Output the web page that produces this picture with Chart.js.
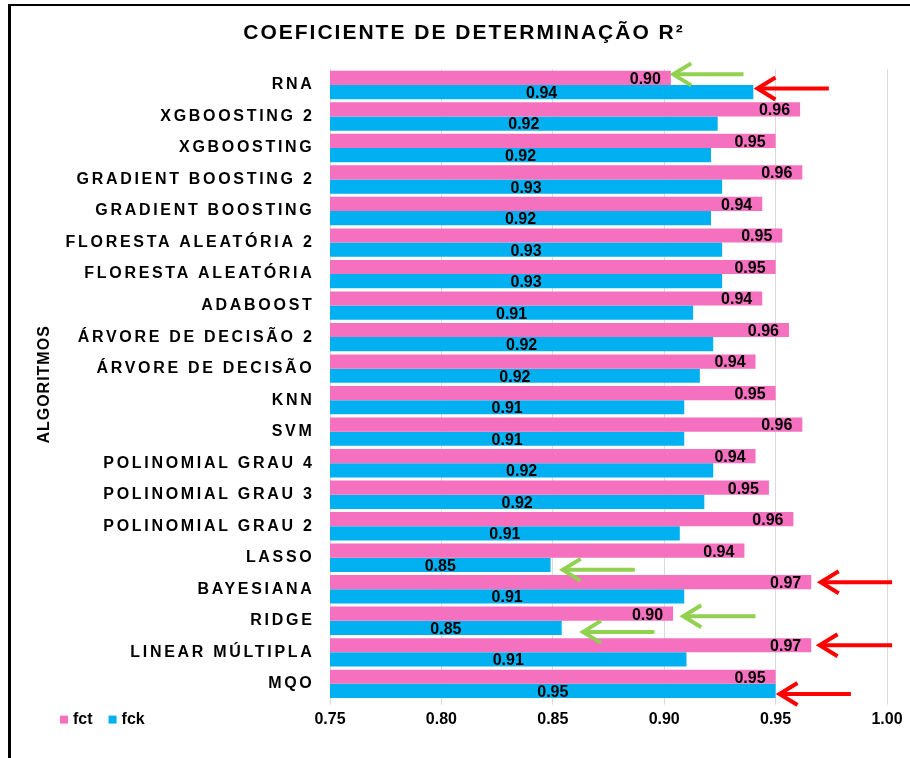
<!DOCTYPE html>
<html>
<head>
<meta charset="utf-8">
<script src="https://cdn.jsdelivr.net/npm/chart.js@4.4.0/dist/chart.umd.min.js"></script>
<style>
  html, body { margin: 0; padding: 0; background: #fff; }
  #frame { position: absolute; left: 8px; top: 4px; width: 910px; height: 760px;
           border-top: 2px solid #000; border-left: 3px solid #000; box-sizing: border-box; }
  #wrap { position: absolute; left: 0; top: 0; width: 910px; height: 758px; }
</style>
</head>
<body>
<div id="frame"></div>
<div id="wrap"><canvas id="c"></canvas></div>
<script>
// ---- data ----
const categories = [
  'RNA', 'XGBOOSTING 2', 'XGBOOSTING', 'GRADIENT BOOSTING 2', 'GRADIENT BOOSTING',
  'FLORESTA ALEATÓRIA 2', 'FLORESTA ALEATÓRIA', 'ADABOOST', 'ÁRVORE DE DECISÃO 2',
  'ÁRVORE DE DECISÃO', 'KNN', 'SVM', 'POLINOMIAL GRAU 4', 'POLINOMIAL GRAU 3',
  'POLINOMIAL GRAU 2', 'LASSO', 'BAYESIANA', 'RIDGE', 'LINEAR MÚLTIPLA', 'MQO'
];
const fctValues = [0.903, 0.961, 0.950, 0.962, 0.944, 0.953, 0.950, 0.944, 0.956, 0.941,
                   0.950, 0.962, 0.941, 0.947, 0.958, 0.936, 0.966, 0.904, 0.966, 0.950];
const fckValues = [0.940, 0.924, 0.921, 0.926, 0.921, 0.926, 0.926, 0.913, 0.922, 0.916,
                   0.909, 0.909, 0.922, 0.918, 0.907, 0.849, 0.909, 0.854, 0.910, 0.950];
const seriesNames = ['fct', 'fck'];
const xTickValues = [0.75, 0.80, 0.85, 0.90, 0.95, 1.00];
const xTickLabels = ['0.75', '0.80', '0.85', '0.90', '0.95', '1.00'];
const chartTitle = 'COEFICIENTE DE DETERMINAÇÃO R²';
const axisTitle = 'ALGORITMOS';

// highlight arrows (annotation): from tail value to tip value, on a given bar
const arrows = [
  { category: 'RNA', series: 'fct', from: 0.9356, to: 0.9036, dy: -3.5, color: '#92D050' },
  { category: 'RNA', series: 'fck', from: 0.9739, to: 0.9414, dy: -3.5, color: '#FF0000' },
  { category: 'LASSO', series: 'fck', from: 0.8868, to: 0.8540, dy: 5, color: '#92D050' },
  { category: 'BAYESIANA', series: 'fct', from: 1.0023, to: 0.9698, dy: 0, color: '#FF0000' },
  { category: 'RIDGE', series: 'fct', from: 0.9410, to: 0.9081, dy: 2.5, color: '#92D050' },
  { category: 'RIDGE', series: 'fck', from: 0.8956, to: 0.8631, dy: 4, color: '#92D050' },
  { category: 'LINEAR MÚLTIPLA', series: 'fct', from: 1.0023, to: 0.9693, dy: 0, color: '#FF0000' },
  { category: 'MQO', series: 'fck', from: 0.9838, to: 0.9513, dy: 3, color: '#FF0000' }
];

// ---- styling ----
const FONT = "'Liberation Sans', Arial, Helvetica, sans-serif";
const PINK = '#F570BE';
const BLUE = '#00B0F0';

const spacingPlugin = {
  id: 'spacing',
  afterLayout(chart) {
    const ctx = chart.ctx;
    const y = chart.scales.y;
    if (y && !y.__wrapped) {
      const dl = y.drawLabels;
      y.drawLabels = function (area) {
        ctx.save(); ctx.letterSpacing = '2.7px'; dl.call(this, area); ctx.restore();
      };
      const dt = y.drawTitle;
      y.drawTitle = function () {
        ctx.save(); ctx.letterSpacing = '1px'; dt.call(this); ctx.restore();
      };
      y.__wrapped = true;
    }
    const t = chart.titleBlock;
    if (t && !t.__wrapped) {
      const d = t.draw;
      t.draw = function (a) {
        ctx.save(); ctx.letterSpacing = '2px'; d.call(this, a); ctx.restore();
      };
      t.__wrapped = true;
    }
  }
};

const labelPlugin = {
  id: 'valueLabels',
  afterDatasetsDraw(chart) {
    const ctx = chart.ctx;
    const xs = chart.scales.x;
    const base = xs.getPixelForValue(xs.min);
    ctx.save();
    ctx.font = 'bold 16px ' + FONT;
    ctx.fillStyle = '#000';
    ctx.textBaseline = 'middle';
    chart.data.datasets.forEach((ds, di) => {
      const meta = chart.getDatasetMeta(di);
      meta.data.forEach((bar, i) => {
        const txt = Number(ds.data[i]).toFixed(2);
        const end = xs.getPixelForValue(ds.data[i]);
        if (di === 0) {
          ctx.textAlign = 'right';
          ctx.fillText(txt, end - 10, bar.y + 1.5);
        } else {
          ctx.textAlign = 'center';
          ctx.fillText(txt, (end + base) / 2, bar.y + 1.5);
        }
      });
    });
    ctx.restore();
  }
};

const arrowLegendPlugin = {
  id: 'arrowsLegend',
  afterDraw(chart) {
    const ctx = chart.ctx;
    const xs = chart.scales.x;
    ctx.save();
    // arrows
    arrows.forEach(a => {
      const ci = categories.indexOf(a.category);
      const di = seriesNames.indexOf(a.series);
      const bar = chart.getDatasetMeta(di).data[ci];
      const y = bar.y + a.dy;
      const tail = xs.getPixelForValue(a.from);
      const tip = xs.getPixelForValue(a.to);
      ctx.strokeStyle = a.color;
      ctx.lineWidth = 4;
      ctx.lineCap = 'butt';
      ctx.lineJoin = 'miter';
      ctx.beginPath(); ctx.moveTo(tail, y); ctx.lineTo(tip + 2, y); ctx.stroke();
      ctx.beginPath();
      ctx.moveTo(tip + 19, y - 11); ctx.lineTo(tip + 1, y); ctx.lineTo(tip + 19, y + 11);
      ctx.stroke();
    });
    // legend on the tick-label row
    const ly = xs.top + 5 + 5.4 + 9.6;
    ctx.font = 'bold 16px ' + FONT;
    ctx.textBaseline = 'middle';
    ctx.textAlign = 'left';
    let lx = 60;
    chart.data.datasets.forEach(ds => {
      ctx.fillStyle = ds.backgroundColor;
      ctx.fillRect(lx, ly - 4, 8, 8);
      ctx.fillStyle = '#000';
      ctx.fillText(ds.label, lx + 13, ly);
      lx += 13 + ctx.measureText(ds.label).width + 16;
    });
    ctx.restore();
  }
};

new Chart(document.getElementById('c'), {
  type: 'bar',
  data: {
    labels: categories,
    datasets: [
      { label: seriesNames[0], data: fctValues, backgroundColor: PINK, borderWidth: 0 },
      { label: seriesNames[1], data: fckValues, backgroundColor: BLUE, borderWidth: 0 }
    ]
  },
  options: {
    indexAxis: 'y',
    responsive: true,
    maintainAspectRatio: false,
    animation: false,
    layout: { padding: { left: 41, right: 23, top: 0, bottom: 23.4 } },
    datasets: { bar: { categoryPercentage: 0.9, barPercentage: 1.0 } },
    plugins: {
      legend: { display: false },
      tooltip: { enabled: false },
      title: {
        display: true,
        text: chartTitle,
        color: '#000',
        font: { family: FONT, size: 21, weight: 'bold' },
        padding: { top: 21, bottom: 23 }
      }
    },
    scales: {
      x: {
        type: 'linear',
        min: 0.75,
        max: 1.00,
        afterBuildTicks(scale) { scale.ticks = xTickValues.map(v => ({ value: v })); },
        ticks: {
          callback: (v) => xTickLabels[xTickValues.findIndex(t => Math.abs(t - v) < 1e-9)],
          color: '#000',
          font: { family: FONT, size: 16, weight: 'bold' },
          padding: 5.4,
          maxRotation: 0
        },
        grid: { color: '#D9D9D9', lineWidth: 1, drawTicks: true, tickLength: 5 },
        border: { display: false }
      },
      y: {
        afterFit(scale) { scale.width = 289; },
        ticks: {
          color: '#000',
          font: { family: FONT, size: 16, weight: 'bold' },
          padding: 15.5,
          autoSkip: false
        },
        grid: { display: false, drawTicks: false },
        border: { display: true, color: '#D9D9D9', width: 1 },
        title: {
          display: true,
          text: axisTitle,
          color: '#000',
          font: { family: FONT, size: 16, weight: 'bold' },
          padding: { top: -6, bottom: 0 }
        }
      }
    }
  },
  plugins: [spacingPlugin, labelPlugin, arrowLegendPlugin]
});
</script>
</body>
</html>
